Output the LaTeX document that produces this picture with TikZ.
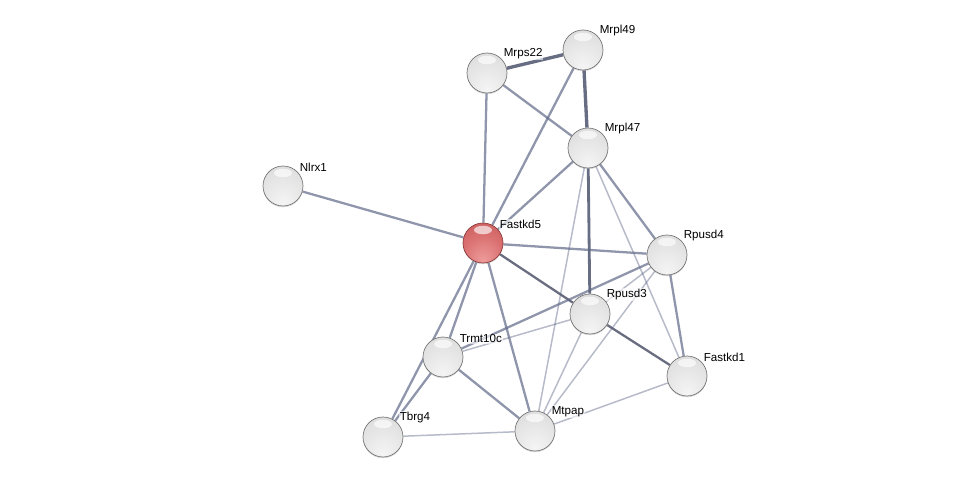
\documentclass[tikz,border=0pt]{standalone}
\usepackage{fontspec}
\setmainfont{Liberation Sans}
\usepackage{tikz}
\usetikzlibrary{backgrounds,shadows}
\definecolor{edgegray}{RGB}{95,104,135}
\definecolor{rimgray}{RGB}{120,120,120}
\definecolor{rimred}{RGB}{140,60,60}
\definecolor{redlight}{RGB}{238,155,155}
\definecolor{redmid}{RGB}{218,112,112}
\definecolor{reddark}{RGB}{200,90,90}
\pgfdeclareradialshading{graysphere}{\pgfpoint{0bp}{-22bp}}{%
  color(0bp)=(white!92!gray); color(25bp)=(white!80!gray); color(45bp)=(white!70!gray);
  color(62bp)=(white!62!gray); color(80bp)=(white!56!gray)}
\pgfdeclareradialshading{redsphere}{\pgfpoint{0bp}{-22bp}}{%
  color(0bp)=(redlight); color(25bp)=(redmid); color(45bp)=(reddark);
  color(80bp)=(reddark!90!black)}

\begin{document}
\begin{tikzpicture}[x=0.02cm,y=-0.02cm,
    gene/.style={circle,minimum size=0.8cm,inner sep=0pt,shading=graysphere,
      draw=rimgray,line width=0.4pt,
      drop shadow={shadow xshift=0pt,shadow yshift=-0.7pt,opacity=0.3},
      path picture={\fill[white,opacity=0.65] ([yshift=-0.14cm]path picture bounding box.north)
        ellipse (0.18cm and 0.085cm);},
      label distance=0.06cm},
    query/.style={gene,shading=redsphere,draw=rimred},
    lbl/.style={anchor=south west,font=\fontsize{6.6}{7.5}\selectfont,inner sep=0.5pt,
      fill=white,fill opacity=0.6,text opacity=1},
    weak/.style={edgegray,opacity=0.45,line width=0.85pt},
    mid/.style={edgegray,opacity=0.7,line width=1.3pt},
    dark/.style={edgegray!70!black,opacity=0.8,line width=1.3pt},
    strong/.style={edgegray!80!black,opacity=0.85,line width=1.9pt}]
    \useasboundingbox (0,0) rectangle (975,483);

    % proteins
    \node[gene,label={[lbl]40:Mrpl49}] (mrpl49) at (583,50) {};
    \node[gene,label={[lbl]40:Mrps22}] (mrps22) at (487,73) {};
    \node[gene,label={[lbl]40:Mrpl47}] (mrpl47) at (588,148) {};
    \node[gene,label={[lbl]40:Nlrx1}] (nlrx1) at (283,186) {};
    \node[query,label={[lbl]40:Fastkd5}] (fastkd5) at (483,243) {};
    \node[gene,label={[lbl]40:Rpusd4}] (rpusd4) at (667,255) {};
    \node[gene,label={[lbl]40:Rpusd3}] (rpusd3) at (590,314) {};
    \node[gene,label={[lbl]40:Trmt10c}] (trmt10c) at (443,357) {};
    \node[gene,label={[lbl]40:Fastkd1}] (fastkd1) at (687,376) {};
    \node[gene,label={[lbl]40:Tbrg4}] (tbrg4) at (383,437) {};
    \node[gene,label={[lbl]40:Mtpap}] (mtpap) at (535,431) {};

    % interactions
    \begin{pgfonlayer}{background}
      \draw[strong] (mrps22) -- (mrpl49);
      \draw[strong] (mrpl49) -- (mrpl47);
      \draw[strong,line width=1.6pt] (mrpl47) -- (rpusd3);
      \draw[dark] (fastkd5) -- (rpusd3);
      \draw[dark] (rpusd3) -- (fastkd1);

      \draw[mid] (mrps22) -- (mrpl47);
      \draw[mid] (mrps22) -- (fastkd5);
      \draw[mid] (mrpl49) -- (fastkd5);
      \draw[mid] (mrpl47) -- (fastkd5);
      \draw[mid] (nlrx1) -- (fastkd5);
      \draw[mid] (fastkd5) -- (rpusd4);
      \draw[mid] (fastkd5) -- (trmt10c);
      \draw[mid] (fastkd5) -- (tbrg4);
      \draw[mid] (fastkd5) -- (mtpap);
      \draw[mid] (mrpl47) -- (rpusd4);
      \draw[mid] (trmt10c) -- (rpusd4);
      \draw[mid] (trmt10c) -- (mtpap);
      \draw[mid] (trmt10c) -- (tbrg4);
      \draw[mid] (rpusd4) -- (fastkd1);

      \draw[weak] (mrpl47) -- (mtpap);
      \draw[weak] (mrpl47) -- (fastkd1);
      \draw[weak] (rpusd4) -- (rpusd3);
      \draw[weak] (rpusd4) -- (mtpap);
      \draw[weak] (rpusd3) -- (trmt10c);
      \draw[weak] (rpusd3) -- (mtpap);
      \draw[weak] (tbrg4) -- (mtpap);
      \draw[weak] (mtpap) -- (fastkd1);
    \end{pgfonlayer}
\end{tikzpicture}
\end{document}
